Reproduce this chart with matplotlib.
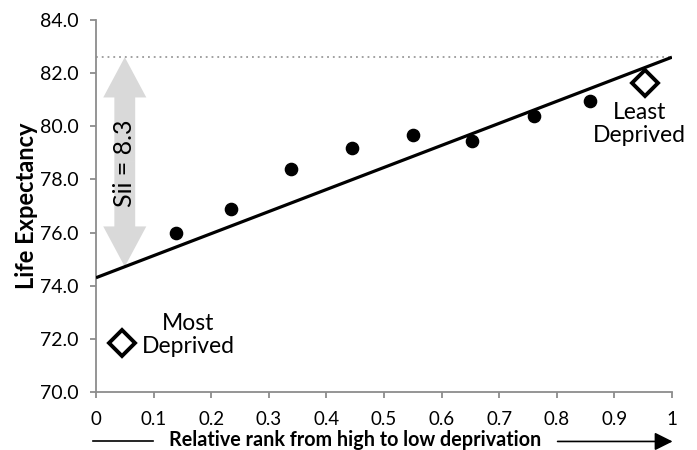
import matplotlib
matplotlib.use("Agg")
import matplotlib.pyplot as plt
from matplotlib.patches import FancyArrowPatch, ArrowStyle

plt.rcParams['font.family'] = ['Lato', 'DejaVu Sans']

# Life expectancy by deprivation decile (relative rank, value)
decile_rank = [0.139, 0.234, 0.339, 0.445, 0.550, 0.653, 0.761, 0.858]
decile_le = [75.97, 76.88, 78.39, 79.19, 79.67, 79.45, 80.40, 80.96]

# Extreme deciles highlighted with open diamonds
most_rank, most_le = 0.045, 71.86
least_rank, least_le = 0.954, 81.64

# Fitted slope-index-of-inequality line
sii = 8.3
fit_x = [0.0, 1.0]
fit_y = [74.3, 82.6]
sii_arrow_x = 0.05

y_ticks = [70, 72, 74, 76, 78, 80, 82, 84]
y_labels = ["70.0", "72.0", "74.0", "76.0", "78.0", "80.0", "82.0", "84.0"]
x_ticks = [0, 0.1, 0.2, 0.3, 0.4, 0.5, 0.6, 0.7, 0.8, 0.9, 1.0]
x_labels = ["0", "0.1", "0.2", "0.3", "0.4", "0.5", "0.6", "0.7", "0.8", "0.9", "1"]

fig = plt.figure(figsize=(6.97, 4.5), dpi=100)
ax = fig.add_axes([0.1377, 0.1289, 0.8264, 0.8267])

axis_grey = "#8c8c8c"

# Reference level at the top of the fitted line
ax.plot([fit_x[0], fit_x[1]], [fit_y[1], fit_y[1]], color="#9a9a9a",
        linestyle=(0, (1, 2.2)), linewidth=1.3, zorder=1)

# Double-headed SII arrow from the fitted line up to the reference level
y_low = fit_y[0] + (fit_y[1] - fit_y[0]) * sii_arrow_x
y_mid = (y_low + fit_y[1]) / 2
style = ArrowStyle("Simple", head_length=29, head_width=31, tail_width=15)
for y_end in (fit_y[1], y_low):
    ax.add_patch(FancyArrowPatch((sii_arrow_x, y_mid), (sii_arrow_x, y_end),
                                 arrowstyle=style, mutation_scale=1,
                                 shrinkA=0, shrinkB=0, color="#d9d9d9",
                                 linewidth=0, zorder=2))
ax.text(sii_arrow_x, 78.62, f"Sii = {sii}", rotation=90, ha="center",
        va="center", fontsize=18, color="#000000", zorder=3)

# Fitted line
ax.plot(fit_x, fit_y, color="black", linewidth=2.3, zorder=4,
        solid_capstyle="butt")

# Decile points
ax.plot(decile_rank, decile_le, "o", color="black", markersize=8.8, zorder=5)
ax.plot([most_rank, least_rank], [most_le, least_le], "D",
        markerfacecolor="white", markeredgecolor="black",
        markersize=13.5, markeredgewidth=2.8, zorder=5)

ax.text(0.160, 72.14, "Most\nDeprived", ha="center", va="center",
        fontsize=16.5, linespacing=1.1)
ax.text(0.943, 80.08, "Least\nDeprived", ha="center", va="center",
        fontsize=16.5, linespacing=1.1)

ax.set_xlim(0, 1)
ax.set_ylim(70, 84)
ax.set_xticks(x_ticks)
ax.set_xticklabels(x_labels)
ax.set_yticks(y_ticks)
ax.set_yticklabels(y_labels)

for side in ("top", "right"):
    ax.spines[side].set_visible(False)
for side in ("left", "bottom"):
    ax.spines[side].set_color(axis_grey)
    ax.spines[side].set_linewidth(1.3)
ax.tick_params(axis="both", colors=axis_grey, labelcolor="black",
               labelsize=14, length=4.5, width=1.3, direction="out")
ax.tick_params(axis="y", pad=8)
ax.tick_params(axis="x", pad=9, labelsize=13.5)

ax.set_ylabel("Life Expectancy", fontsize=17, fontweight="bold", labelpad=1)

# X-axis caption with a direction arrow
fig.text(0.509, 0.008, "Relative rank from high to low deprivation",
         ha="center", va="baseline", fontsize=14.2, fontweight="bold")
fig.add_artist(plt.Line2D([0.134, 0.219], [0.019, 0.019], color="black",
                          linewidth=1.2, transform=fig.transFigure))
fig.add_artist(FancyArrowPatch((0.800, 0.019), (0.965, 0.019),
                               transform=fig.transFigure,
                               arrowstyle=ArrowStyle("-|>", head_length=11,
                                                     head_width=5.5),
                               mutation_scale=1, color="black",
                               linewidth=1.2, shrinkA=0, shrinkB=0))

fig.savefig("out.png", dpi=100)
